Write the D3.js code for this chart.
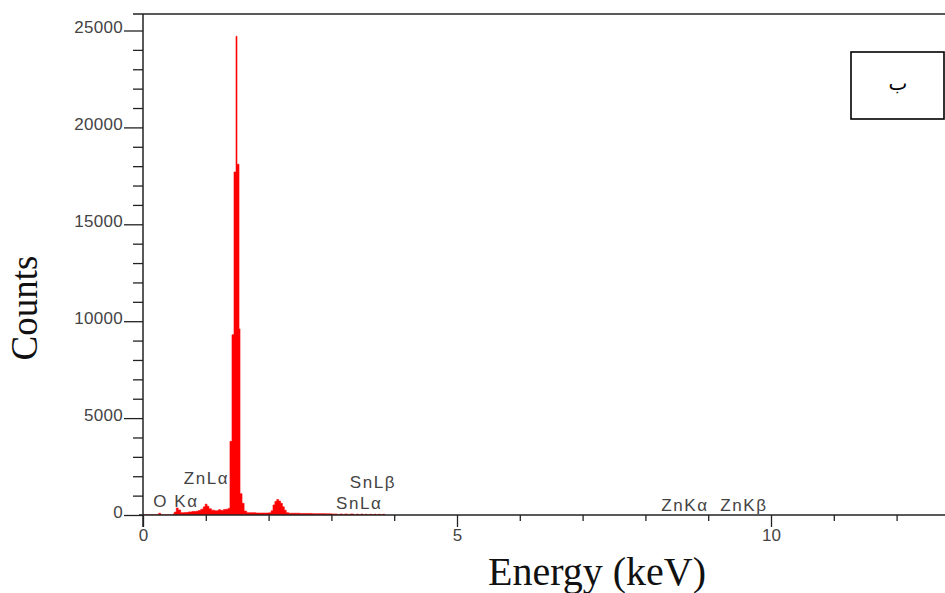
<!DOCTYPE html>
<html>
<head>
<meta charset="utf-8">
<script src="https://cdn.jsdelivr.net/npm/d3@7"></script>
<style>
  body { margin: 0; background: #fff; }
  svg { display: block; }
</style>
</head>
<body>
<svg id="chart" width="945" height="593"></svg>
<script>
// spectrum: channel start energy (keV) and counts
var energy = [0, 0.22, 0.25, 0.28, 0.45, 0.48, 0.50, 0.53, 0.56, 0.60, 0.66, 0.72, 0.78, 0.84,
	0.88, 0.92, 0.96, 0.99, 1.02, 1.05, 1.09, 1.14, 1.20, 1.24, 1.28, 1.32, 1.36, 1.385, 1.417,
	1.449, 1.481, 1.497, 1.529, 1.545, 1.577, 1.61, 1.65, 1.80, 1.95, 2.00, 2.04, 2.07, 2.10,
	2.13, 2.16, 2.19, 2.22, 2.25, 2.28, 2.32, 2.50, 2.70, 2.90, 3.00, 3.10, 3.13, 3.18, 3.21,
	3.26, 3.29, 3.33, 3.36, 3.40, 3.43, 3.47, 3.50, 3.54, 3.57, 3.61, 3.64, 3.68, 3.71, 3.75,
	3.78, 3.82, 3.85];
var counts = [0, 0, 90, 0, 0, 60, 150, 360, 260, 120, 130, 160, 180, 190,
	230, 300, 420, 560, 450, 320, 250, 220, 270, 230, 280, 300, 350, 3800, 9300,
	17700, 24700, 18100, 9600, 1100, 600, 200, 120, 100, 100, 110, 220, 520, 700,
	800, 720, 600, 420, 250, 120, 90, 80, 70, 60, 50, 0, 50, 0, 50,
	0, 50, 50, 0, 50, 0, 50, 0, 40, 0, 40, 0, 40, 0, 40,
	0, 40, 0];

var yMajor = [0, 5000, 10000, 15000, 20000, 25000];
var yMinor = [1000, 2000, 3000, 4000, 6000, 7000, 8000, 9000, 11000, 12000, 13000, 14000,
	16000, 17000, 18000, 19000, 21000, 22000, 23000, 24000];
var xMajor = [0, 5, 10];
var xMinor = [1, 2, 3, 4, 6, 7, 8, 9, 11, 12];

var peakNames = ['O K\u03b1', 'ZnL\u03b1', 'SnL\u03b1', 'SnL\u03b2', 'ZnK\u03b1', 'ZnK\u03b2'];
var peakEnergy = [0.525, 1.012, 3.444, 3.663, 8.63, 9.57];

// -------------------------------------------------------

var svg = d3.select('#chart');
var plotLeft = 143, plotBottom = 515, plotTop = 14, plotRight = 945;

var x_conv = d3.scaleLinear().domain([0, 10]).range([plotLeft, 771]);
var y_conv = d3.scaleLinear().domain([0, 25000]).range([plotBottom, 30.5]);

svg.append('clipPath').attr('id', 'plot')
	.append('rect')
	.attr('x', plotLeft).attr('y', plotTop)
	.attr('width', plotRight - plotLeft).attr('height', plotBottom - plotTop);

var spectrum = energy.map(function(e, i) { return [e, counts[i]]; });

var area = d3.area()
	.x(function(d) { return x_conv(d[0]); })
	.y0(y_conv(0))
	.y1(function(d) { return y_conv(d[1]); })
	.curve(d3.curveStepAfter);

svg.append('path')
	.datum(spectrum)
	.attr('clip-path', 'url(#plot)')
	.attr('d', area)
	.attr('fill', '#ff0000')
	.attr('stroke', '#ff0000')
	.attr('stroke-width', 0.6);

// assi
var tickFont = '"Liberation Sans", Arial, sans-serif';

var gyMinor = svg.append('g').attr('transform', 'translate(' + plotLeft + ',0)')
	.call(d3.axisLeft(y_conv).tickValues(yMinor).tickSize(10).tickFormat(''));
var gyMajor = svg.append('g').attr('transform', 'translate(' + plotLeft + ',0)')
	.call(d3.axisLeft(y_conv).tickValues(yMajor).tickSize(19).tickPadding(1).tickFormat(d3.format('d')));
var gxMinor = svg.append('g').attr('transform', 'translate(0,' + plotBottom + ')')
	.call(d3.axisBottom(x_conv).tickValues(xMinor).tickSize(6).tickFormat(''));
var gxMajor = svg.append('g').attr('transform', 'translate(0,' + plotBottom + ')')
	.call(d3.axisBottom(x_conv).tickValues(xMajor).tickSize(12).tickPadding(2).tickFormat(d3.format('d')));

[gyMinor, gyMajor, gxMinor, gxMajor].forEach(function(g) {
	g.selectAll('.domain').remove();
	g.selectAll('line').attr('stroke', '#222').attr('stroke-width', 1.3);
	g.selectAll('text')
		.attr('fill', '#444')
		.style('font-family', tickFont)
		.style('font-size', '17px');
});
gyMajor.selectAll('text')
	.attr('dy', '0.14em')
	.style('letter-spacing', '0.3px');

// linee di contorno
svg.append('line')
	.attr('x1', plotLeft).attr('x2', plotLeft)
	.attr('y1', plotTop).attr('y2', plotBottom + 12)
	.attr('stroke', '#222').attr('stroke-width', 1.5);
svg.append('line')
	.attr('x1', plotLeft - 4).attr('x2', plotRight)
	.attr('y1', plotBottom).attr('y2', plotBottom)
	.attr('stroke', '#222').attr('stroke-width', 1.5);
svg.append('line')
	.attr('x1', plotLeft - 10).attr('x2', plotRight)
	.attr('y1', plotTop).attr('y2', plotTop)
	.attr('stroke', '#222').attr('stroke-width', 1.3);

// etichette dei picchi
var peakLift = [8, 31, 6, 27, 4, 4];
svg.selectAll('text.peak')
	.data(peakNames).enter()
	.append('text')
	.attr('class', 'peak')
	.attr('x', function(d, i) { return x_conv(peakEnergy[i]); })
	.attr('y', function(d, i) { return plotBottom - peakLift[i]; })
	.attr('text-anchor', 'middle')
	.attr('fill', '#444')
	.style('font-family', tickFont)
	.style('font-size', '17px')
	.style('letter-spacing', '1.6px')
	.text(function(d) { return d; });

// titoli assi
svg.append('text')
	.attr('transform', 'translate(37,308) rotate(-90)')
	.attr('text-anchor', 'middle')
	.attr('fill', '#111')
	.style('font-family', '"Liberation Serif", "Times New Roman", serif')
	.style('font-size', '37px')
	.text('Counts');

svg.append('text')
	.attr('x', 597)
	.attr('y', 585)
	.attr('text-anchor', 'middle')
	.attr('fill', '#111')
	.style('font-family', '"Liberation Serif", "Times New Roman", serif')
	.style('font-size', '40px')
	.text('Energy (keV)');

// riquadro con la lettera
svg.append('rect')
	.attr('x', 851).attr('y', 52)
	.attr('width', 93).attr('height', 67)
	.attr('fill', 'none')
	.attr('stroke', '#000')
	.attr('stroke-width', 1.6);
svg.append('text')
	.attr('x', 898)
	.attr('y', 90)
	.attr('text-anchor', 'middle')
	.style('font-family', '"DejaVu Sans", serif')
	.style('font-size', '20px')
	.text('\u0628');
</script>
</body>
</html>
